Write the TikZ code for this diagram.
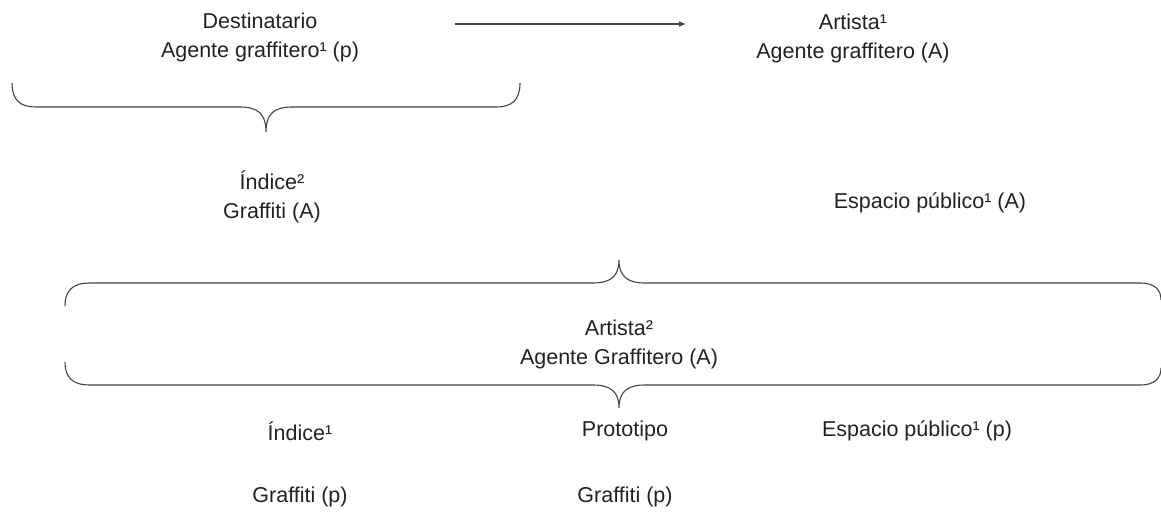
\documentclass[tikz,border=0pt]{standalone}
\usepackage{fontspec}
\setmainfont{Liberation Sans}
\usetikzlibrary{arrows.meta}
\definecolor{txt}{HTML}{222222}
\definecolor{ln}{HTML}{444444}
\begin{document}
\begin{tikzpicture}[x=1pt,y=-1pt,
  label/.style={font=\fontsize{21.5}{29}\selectfont, text=txt, align=center, inner sep=0pt},
  brace/.style={draw=ln, line width=1.1pt},
  link/.style={draw=ln, line width=1.1pt, -{Latex[length=7pt,width=6pt]}}]
\useasboundingbox (0,0) rectangle (1161,513);

% top row
\node[label] (dest) at (260,37) {Destinatario\\Agente graffitero¹ (p)};
\node[label] (art1) at (853,38) {Artista¹\\Agente graffitero (A)};
\coordinate (arrS) at (455,24);
\coordinate (arrE) at (686,24);
\draw[link] (arrS) -- (arrE);

% brace under the addressee, tip pointing down
\draw[brace] (12,83) .. controls (12,100) and (20,107) .. (36,107)
  -- (240,107) .. controls (258,107) and (266,114) .. (266,132)
  .. controls (266,114) and (274,107) .. (292,107)
  -- (496,107) .. controls (512,107) and (520,100) .. (520,83);

\node[label] (ind2) at (272,197) {Índice²\\Graffiti (A)};
\node[label] (esp1) at (930,203) {Espacio público¹ (A)};

% upper brace, tip pointing up
\draw[brace] (65,306) .. controls (65,291) and (72,283) .. (90,283)
  -- (593,283) .. controls (611,283) and (619,276) .. (619,260)
  .. controls (619,276) and (627,283) .. (645,283)
  -- (1140,283) .. controls (1155,283) and (1161,290) .. (1161,300);

\node[label] (art2) at (619,344) {Artista²\\Agente Graffitero (A)};

% lower brace, tip pointing down
\draw[brace] (65,362) .. controls (65,377) and (72,385) .. (90,385)
  -- (593,385) .. controls (611,385) and (619,392) .. (619,408)
  .. controls (619,392) and (627,385) .. (645,385)
  -- (1140,385) .. controls (1155,385) and (1161,378) .. (1161,368);

% bottom row
\node[label] (ind1) at (300,431) {Índice¹};
\node[label] (gp1) at (300,497) {Graffiti (p)};
\node[label] (proto) at (625,431) {Prototipo};
\node[label] (gp2) at (625,497) {Graffiti (p)};
\node[label] (esp2) at (917,431) {Espacio público¹ (p)};
\end{tikzpicture}
\end{document}
